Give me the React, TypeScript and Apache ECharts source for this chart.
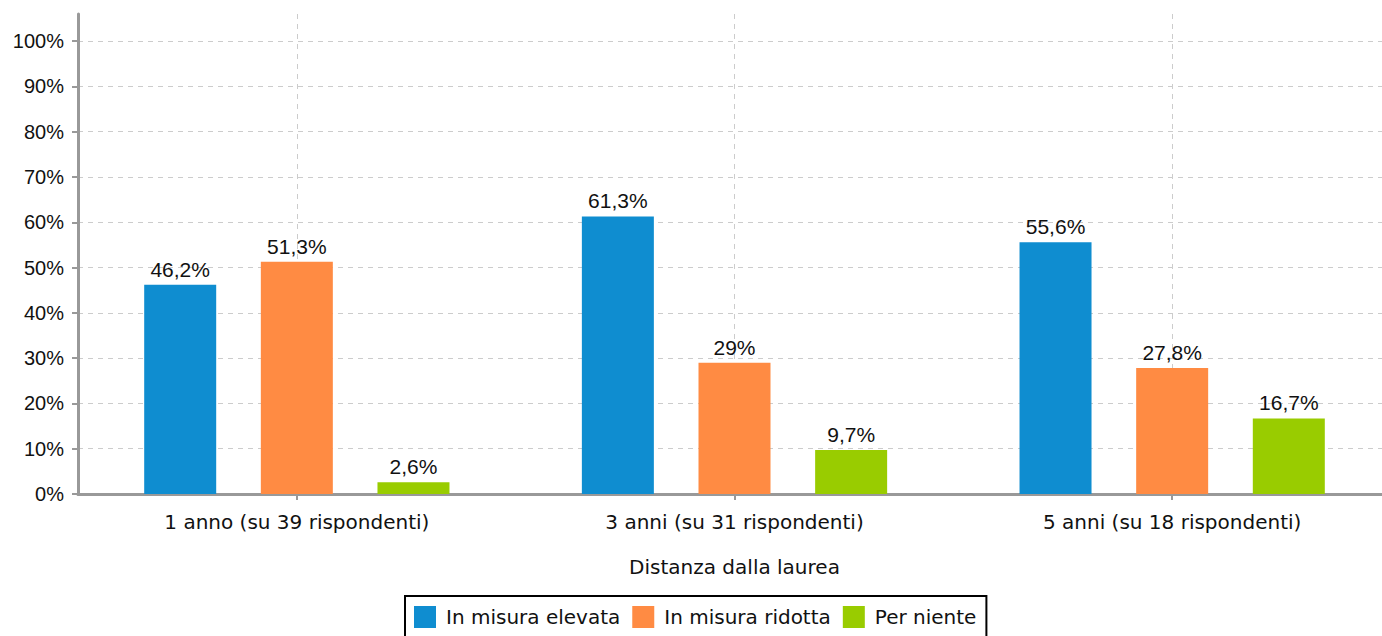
import React, { useEffect, useRef } from "react";
import * as echarts from "echarts";

const categories = [
  "1 anno (su 39 rispondenti)",
  "3 anni (su 31 rispondenti)",
  "5 anni (su 18 rispondenti)",
];
const seriesNames = ["In misura elevata", "In misura ridotta", "Per niente"];
const elevata = [46.2, 61.3, 55.6];
const ridotta = [51.3, 29, 27.8];
const perNiente = [2.6, 9.7, 16.7];
const colors = ["#0f8dd0", "#ff8b43", "#99cc00"];
const axisTitle = "Distanza dalla laurea";

const fmt = (v: number) => String(v).replace(".", ",") + "%";

export default function App() {
  const ref = useRef<HTMLDivElement>(null);
  useEffect(() => {
    if (!ref.current) return;
    const chart = echarts.init(ref.current, null, { renderer: "svg" });
    const values = [elevata, ridotta, perNiente];
    chart.setOption({
      animation: false,
      backgroundColor: "#fff",
      grid: {
        left: 78,
        width: 1313,
        top: 14,
        height: 480,
        containLabel: false,
        outerBoundsMode: "none",
      },
      legend: {
        left: 405,
        top: 596,
        orient: "horizontal",
        itemWidth: 22,
        itemHeight: 22,
        itemGap: 12,
        padding: [10, 10, 10, 9],
        borderColor: "#000",
        borderWidth: 2,
        icon: "rect",
        textStyle: {
          fontFamily: "DejaVu Sans",
          fontSize: 20,
          color: "#111",
          padding: [0, 0, 0, 5],
        },
        data: seriesNames,
      },
      xAxis: {
        type: "category",
        data: categories,
        name: axisTitle,
        nameLocation: "middle",
        nameGap: 63,
        nameTextStyle: { fontFamily: "DejaVu Sans", fontSize: 20, color: "#111", verticalAlign: "top" },
        axisLine: { show: true, lineStyle: { color: "#999", width: 3 } },
        axisTick: { show: true, alignWithLabel: true, length: 6, lineStyle: { color: "#999", width: 2 } },
        axisLabel: { fontFamily: "DejaVu Sans", fontSize: 20, color: "#111", margin: 18 },
        splitLine: {
          show: true,
          alignWithLabel: true,
          lineStyle: { color: "#cccccc", type: [5, 5], width: 1 },
        },
      },
      yAxis: {
        type: "value",
        min: 0,
        max: 106,
        interval: 10,
        axisLine: { show: true, lineStyle: { color: "#999", width: 3 } },
        axisTick: { show: true, length: 6, lineStyle: { color: "#999", width: 2 } },
        axisLabel: {
          fontFamily: "Liberation Sans",
          fontSize: 20,
          color: "#111",
          margin: 14,
          showMaxLabel: false,
          formatter: (v: number) => (v > 100 ? "" : v + "%"),
        },
        splitLine: {
          show: true,
          showMaxLine: false,
          lineStyle: { color: "#cccccc", type: [5, 5], width: 1 },
        },
      },
      series: seriesNames.map((name, i) => ({
        name,
        type: "bar",
        data: values[i],
        barWidth: 72,
        barGap: "62%",
        itemStyle: { color: colors[i] },
        label: {
          show: true,
          position: "top",
          distance: 5,
          fontFamily: "Liberation Sans",
          fontSize: 21,
          color: "#111",
          formatter: (p: any) => fmt(p.value),
        },
      })),
    });
    return () => chart.dispose();
  }, []);
  return (
    <div
      ref={ref}
      style={{ position: "fixed", left: 0, top: 0, width: 1382, height: 636 }}
    />
  );
}
